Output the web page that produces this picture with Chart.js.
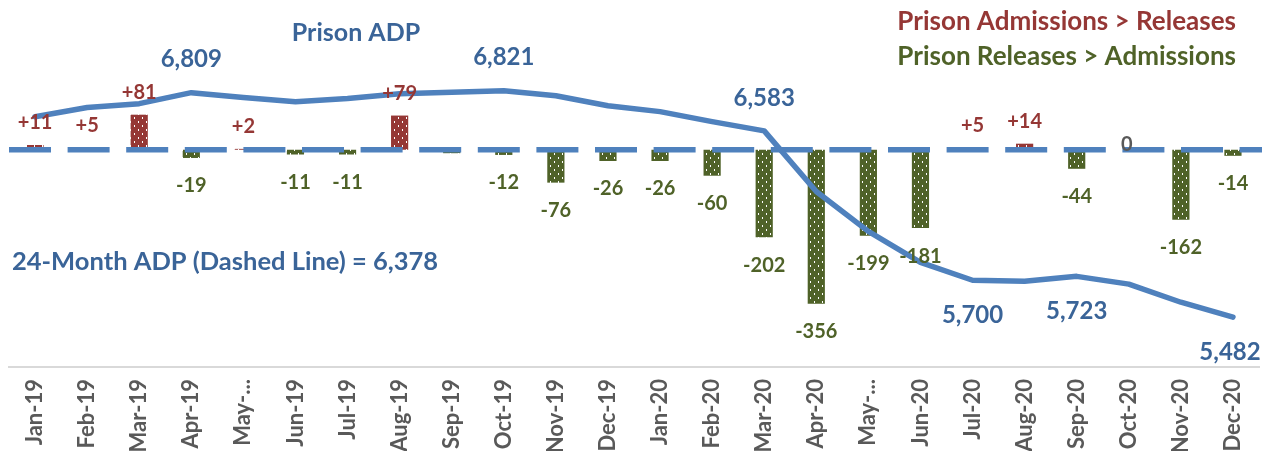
<!DOCTYPE html>
<html>
<head>
<meta charset="utf-8">
<script src="https://cdn.jsdelivr.net/npm/chart.js@4"></script>
<style>
  html, body { margin: 0; padding: 0; background: #fff; }
  #wrap { width: 1262px; height: 451px; }
</style>
</head>
<body>
<div id="wrap"><canvas id="chartCanvas"></canvas></div>
<script>
// month categories as shown on the axis
const months = ['Jan-19', 'Feb-19', 'Mar-19', 'Apr-19', 'May-...', 'Jun-19', 'Jul-19', 'Aug-19',
  'Sep-19', 'Oct-19', 'Nov-19', 'Dec-19', 'Jan-20', 'Feb-20', 'Mar-20', 'Apr-20',
  'May-...', 'Jun-20', 'Jul-20', 'Aug-20', 'Sep-20', 'Oct-20', 'Nov-20', 'Dec-20'];

// admissions minus releases per month
const netChange = [11, 5, 81, -19, 2, -11, -11, 79, -8, -12, -76, -26,
  -26, -60, -202, -356, -199, -181, 5, 14, -44, 0, -162, -14];
const netLabels = ['+11', '+5', '+81', '-19', '+2', '-11', '-11', '+79', '', '-12', '-76', '-26',
  '-26', '-60', '-202', '-356', '-199', '-181', '+5', '+14', '-44', '0', '-162', '-14'];

// prison average daily population
const adp = [6667, 6721, 6744, 6809, 6780, 6756, 6774, 6803, 6812, 6821, 6791, 6732,
  6697, 6638, 6583, 6225, 5989, 5806, 5700, 5694, 5723, 5677, 5570, 5482];
const adpLabelled = [3, 9, 14, 18, 20, 23];

const avgAdp = 6378;

const RED = '#953735';
const GREEN = '#4f6228';
const BLUE = '#4f81bd';
const DARKBLUE = '#3a6498';
const GRAY = '#595959';
const FONT = 'Lato';

function dotPattern(color) {
  const c = document.createElement('canvas');
  c.width = 8; c.height = 8;
  const g = c.getContext('2d');
  g.fillStyle = color;
  g.fillRect(0, 0, 8, 8);
  g.fillStyle = '#ffffff';
  g.fillRect(2, 1, 1, 2);
  g.fillRect(6, 5, 1, 2);
  return g.createPattern(c, 'repeat');
}

const redFill = dotPattern(RED);
const greenFill = dotPattern(GREEN);

// dashed 24-month average line, drawn between the bars and the ADP line
const dashedLine = {
  id: 'dashedLine',
  beforeDatasetDraw(chart, args) {
    if (args.index !== 0) return;
    const { ctx, chartArea } = chart;
    const y = chart.scales.yNet.getPixelForValue(0);
    ctx.save();
    ctx.strokeStyle = BLUE;
    ctx.lineWidth = 5.5;
    ctx.setLineDash([42, 16.6]);
    ctx.beginPath();
    ctx.moveTo(chartArea.left, y);
    ctx.lineTo(1262, y);
    ctx.stroke();
    ctx.restore();
  }
};

const textLabels = {
  id: 'textLabels',
  afterDatasetsDraw(chart) {
    const ctx = chart.ctx;
    ctx.save();
    ctx.textAlign = 'center';
    ctx.textBaseline = 'middle';

    // bar labels
    ctx.font = `bold 20px ${FONT}`;
    chart.getDatasetMeta(1).data.forEach((bar, i) => {
      const v = netChange[i];
      const t = netLabels[i];
      if (!t) return;
      if (v > 0) {
        ctx.fillStyle = RED;
        ctx.fillText(t, bar.x, bar.y - 22);
      } else if (v < 0) {
        ctx.fillStyle = GREEN;
        ctx.fillText(t, bar.x, bar.y + 28);
      } else {
        ctx.fillStyle = GRAY;
        ctx.fillText(t, bar.x - 2, bar.y - 5);
      }
    });

    // ADP labels
    ctx.font = `bold 24px ${FONT}`;
    ctx.fillStyle = DARKBLUE;
    const pts = chart.getDatasetMeta(0).data;
    adpLabelled.forEach(i => {
      const p = pts[i];
      const t = adp[i].toLocaleString('en-US');
      const above = adp[i] > avgAdp;
      ctx.fillText(t, Math.min(p.x, 1230), above ? p.y - 33 : p.y + 35);
    });

    // titles
    ctx.font = `bold 25px ${FONT}`;
    ctx.fillText('Prison ADP', 356, 33);
    ctx.font = `bold 25.5px ${FONT}`;
    ctx.textAlign = 'left';
    ctx.fillText('24-Month ADP (Dashed Line) = ' + avgAdp.toLocaleString('en-US'), 12, 262);
    ctx.font = `bold 26px ${FONT}`;
    ctx.textAlign = 'right';
    ctx.fillStyle = RED;
    ctx.fillText('Prison Admissions > Releases', 1236, 22);
    ctx.fillStyle = GREEN;
    ctx.fillText('Prison Releases > Admissions', 1236, 57);
    ctx.restore();
  }
};

function initChart() {
  const ctx = document.getElementById('chartCanvas').getContext('2d');
  new Chart(ctx, {
    type: 'bar',
    data: {
      labels: months,
      datasets: [{
        type: 'line',
        label: 'Prison ADP',
        data: adp,
        yAxisID: 'yAdp',
        borderColor: BLUE,
        borderWidth: 5.5,
        pointRadius: 0,
        tension: 0,
        borderJoinStyle: 'round',
        borderCapStyle: 'round',
        order: 0
      }, {
        label: 'Net change',
        data: netChange,
        yAxisID: 'yNet',
        backgroundColor: c => (c.raw >= 0 ? redFill : greenFill),
        barPercentage: 0.33,
        categoryPercentage: 1,
        order: 1
      }]
    },
    options: {
      responsive: true,
      maintainAspectRatio: false,
      animation: false,
      layout: { padding: { left: 9, right: 3, top: 0, bottom: 0 } },
      plugins: {
        legend: { display: false },
        tooltip: { enabled: false }
      },
      scales: {
        x: {
          afterFit: scale => {
            scale.height = 84;
            scale.paddingLeft = 0;
            scale.paddingRight = 0;
          },
          grid: { display: false, drawTicks: false },
          border: { display: true, color: '#d9d9d9', width: 2 },
          ticks: {
            color: GRAY,
            font: { family: FONT, weight: 'bold', size: 22 },
            minRotation: 90,
            maxRotation: 90,
            autoSkip: false,
            padding: 12
          }
        },
        yNet: {
          display: false,
          min: -502,
          max: 346
        },
        yAdp: {
          display: false,
          min: 5187,
          max: 7357
        }
      }
    },
    plugins: [dashedLine, textLabels]
  });
}

document.addEventListener('DOMContentLoaded', () => {
  initChart();
});
</script>
</body>
</html>
